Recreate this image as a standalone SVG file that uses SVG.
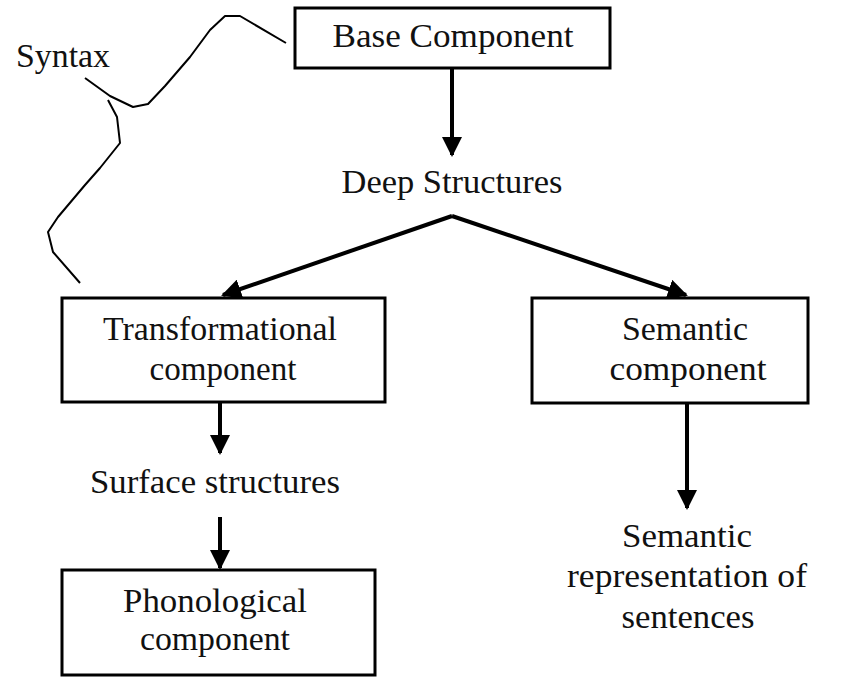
<svg xmlns="http://www.w3.org/2000/svg" width="847" height="681" viewBox="0 0 847 681">
<style>
.box{fill:#fff;stroke:#000;stroke-width:3}
.t{font-family:"Liberation Serif","Times New Roman","DejaVu Serif",serif;font-size:34px;fill:#111;text-anchor:middle}
.c{stroke:#000;stroke-width:4;fill:none}
.curve{stroke:#000;stroke-width:2;fill:none;stroke-linejoin:round}
</style>
<defs>
<marker id="ah" viewBox="0 0 10 10" refX="9" refY="5" markerWidth="5" markerHeight="5" markerUnits="strokeWidth" orient="auto">
<path d="M0,0 L10,5 L0,10 Z" fill="#000"/>
</marker>
</defs>
<rect width="847" height="681" fill="#fff"/>
<g id="connectors">
<line class="c" x1="452" y1="68" x2="452" y2="155" marker-end="url(#ah)"/>
<path class="c" d="M452,216 L223,295" marker-end="url(#ah)"/>
<path class="c" d="M452,216 L686,295" marker-end="url(#ah)"/>
<line class="c" x1="220" y1="402" x2="220" y2="453" marker-end="url(#ah)"/>
<line class="c" x1="220" y1="517" x2="220" y2="568" marker-end="url(#ah)"/>
<line class="c" x1="687" y1="403" x2="687" y2="508" marker-end="url(#ah)"/>
</g>
<g id="syntax">
<text class="t" x="63" y="67" textLength="94" lengthAdjust="spacingAndGlyphs">Syntax</text>
<path class="curve" d="M85,78 L110,96 L133,107 L148,104 L165,86 L190,57 L210,30 L225,16 L240,16 L286,43"/>
<path class="curve" d="M108,100 L117,117 L120,143 L100,168 L85,185 L58,217 L48,232 L53,252 L80,283"/>
</g>
<g id="base">
<rect class="box" x="295" y="8" width="315" height="60"/>
<text class="t" x="453" y="47" textLength="241" lengthAdjust="spacingAndGlyphs">Base Component</text>
</g>
<g id="deep">
<text class="t" x="452" y="193" textLength="221" lengthAdjust="spacingAndGlyphs">Deep Structures</text>
</g>
<g id="transformational">
<rect class="box" x="62" y="298" width="323" height="104"/>
<text class="t" x="220" y="340" textLength="234" lengthAdjust="spacingAndGlyphs">Transformational</text>
<text class="t" x="223" y="380" textLength="147" lengthAdjust="spacingAndGlyphs">component</text>
</g>
<g id="semantic">
<rect class="box" x="532" y="298" width="276" height="105"/>
<text class="t" x="685" y="340" textLength="126" lengthAdjust="spacingAndGlyphs">Semantic</text>
<text class="t" x="688" y="380" textLength="157" lengthAdjust="spacingAndGlyphs">component</text>
</g>
<g id="surface">
<text class="t" x="215" y="493" textLength="250" lengthAdjust="spacingAndGlyphs">Surface structures</text>
</g>
<g id="phonological">
<rect class="box" x="62" y="570" width="313" height="105"/>
<text class="t" x="215" y="612" textLength="184" lengthAdjust="spacingAndGlyphs">Phonological</text>
<text class="t" x="215" y="650" textLength="150" lengthAdjust="spacingAndGlyphs">component</text>
</g>
<g id="semrep">
<text class="t" x="687" y="547" textLength="130" lengthAdjust="spacingAndGlyphs">Semantic</text>
<text class="t" x="687" y="587" textLength="240" lengthAdjust="spacingAndGlyphs">representation of</text>
<text class="t" x="688" y="628" textLength="133" lengthAdjust="spacingAndGlyphs">sentences</text>
</g>
</svg>
